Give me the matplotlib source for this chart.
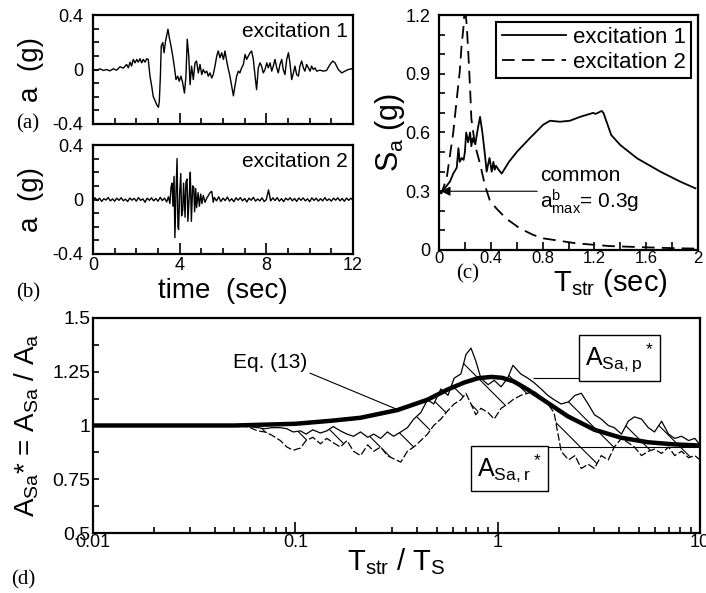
import matplotlib
matplotlib.use('Agg')
import matplotlib.pyplot as plt
from matplotlib.ticker import MultipleLocator, LogLocator, NullFormatter

plt.rcParams['font.family'] = ['Liberation Sans', 'DejaVu Sans']
plt.rcParams['mathtext.default'] = 'regular'
plt.rcParams['hatch.linewidth'] = 0.8

# ---- (a) excitation 1 time history (sec, g)
t1 = [0.02, 0.17, 0.32, 0.48, 0.63, 0.78, 0.94, 1.09, 1.25, 1.40,
      1.55, 1.63, 1.71, 1.78, 1.86, 1.94, 2.02, 2.09, 2.17, 2.25,
      2.32, 2.40, 2.48, 2.55, 2.63, 2.71, 2.78, 2.86, 2.94, 3.02,
      3.06, 3.11, 3.15, 3.22, 3.28, 3.35, 3.40, 3.46, 3.52, 3.60,
      3.68, 3.75, 3.83, 3.91, 3.98, 4.06, 4.14, 4.22, 4.29, 4.35,
      4.42, 4.48, 4.55, 4.63, 4.71, 4.78, 4.86, 4.94, 5.02, 5.09,
      5.17, 5.25, 5.32, 5.40, 5.48, 5.55, 5.63, 5.71, 5.78, 5.86,
      5.94, 6.02, 6.09, 6.17, 6.25, 6.32, 6.40, 6.48, 6.55, 6.63,
      6.71, 6.78, 6.86, 6.94, 7.02, 7.09, 7.17, 7.25, 7.32, 7.40,
      7.48, 7.55, 7.63, 7.71, 7.78, 7.86, 7.94, 8.02, 8.09, 8.17,
      8.25, 8.32, 8.40, 8.48, 8.55, 8.63, 8.71, 8.78, 8.86, 8.94,
      9.02, 9.09, 9.17, 9.25, 9.32, 9.40, 9.48, 9.55, 9.63, 9.71,
      9.78, 9.86, 9.94, 10.02, 10.09, 10.17, 10.25, 10.32, 10.48, 10.63,
      10.78, 10.94, 11.06, 11.17, 11.32, 11.48, 11.63, 11.78, 11.94]
a1 = [0.0, -0.007, 0.005, -0.007, 0.0, -0.01, 0.005, -0.005, 0.02, 0.01,
      0.037, 0.012, 0.054, 0.025, 0.074, 0.049, 0.074, 0.054, 0.079, 0.049,
      0.074, 0.054, 0.079, 0.074, -0.049, -0.123, -0.198, -0.227, -0.259, -0.277,
      -0.235, -0.049, 0.173, 0.198, 0.123, 0.21, 0.247, 0.296, 0.235, 0.173,
      0.099, 0.025, -0.074, -0.049, -0.086, -0.049, -0.099, -0.173, -0.049, 0.222,
      0.099, -0.111, 0.025, -0.074, 0.049, 0.062, -0.025, 0.037, -0.037, 0.0,
      -0.025, -0.012, -0.049, -0.025, -0.062, -0.037, 0.025, 0.099, 0.136, 0.086,
      0.123, 0.074, 0.136, 0.062, 0.0, -0.049, -0.123, -0.193, -0.123, -0.049,
      -0.012, -0.025, 0.012, 0.037, 0.111, 0.074, 0.099, 0.123, 0.136, 0.074,
      -0.049, -0.148, 0.012, 0.049, 0.025, -0.025, 0.0, 0.049, 0.012, 0.049,
      -0.012, 0.025, 0.074, 0.012, -0.025, 0.037, 0.074, 0.0, -0.037, 0.074,
      0.123, 0.049, -0.074, -0.025, 0.025, -0.037, -0.049, 0.025, 0.062, 0.012,
      -0.012, 0.037, 0.012, -0.012, 0.025, 0.0, 0.012, -0.012, -0.005, -0.012,
      -0.007, 0.037, 0.062, 0.049, 0.0, -0.025, -0.012, 0.0, 0.005]

# ---- (b) excitation 2 time history (sec, g)
t2 = [0.0, 0.1, 0.2, 0.3, 0.4, 0.5, 0.6, 0.7, 0.8, 0.9,
      1.0, 1.1, 1.2, 1.3, 1.4, 1.5, 1.6, 1.7, 1.8, 1.9,
      2.0, 2.1, 2.2, 2.3, 2.4, 2.5, 2.6, 2.7, 2.8, 2.9,
      3.0, 3.1, 3.2, 3.3, 3.4,
      3.48, 3.55, 3.60, 3.65, 3.69, 3.74, 3.78, 3.83, 3.88, 3.92,
      3.95, 4.00, 4.05, 4.09, 4.14, 4.18, 4.25, 4.29, 4.34, 4.38,
      4.45, 4.49, 4.54, 4.60, 4.65, 4.69, 4.74, 4.78, 4.85, 4.91,
      4.97, 5.03, 5.09, 5.17, 5.25, 5.33, 5.40, 5.48, 5.55,
      5.6, 5.7, 5.8, 5.9, 6.0, 6.1, 6.2, 6.3, 6.4, 6.5,
      6.6, 6.7, 6.8, 6.9, 7.0, 7.1, 7.2, 7.3, 7.4, 7.5,
      7.6, 7.7, 7.8, 7.9, 8.0, 8.1, 8.2, 8.3, 8.4, 8.5,
      8.6, 8.7, 8.8, 8.9, 9.0, 9.1, 9.2, 9.3, 9.4, 9.5,
      9.6, 9.7, 9.8, 9.9, 10.0, 10.1, 10.2, 10.3, 10.4, 10.5,
      10.6, 10.7, 10.8, 10.9, 11.0, 11.1, 11.2, 11.3, 11.4, 11.5,
      11.6, 11.7, 11.8, 11.9, 12.0]
a2 = [0.0, 0.012, -0.008, 0.01, -0.014, 0.006, -0.004, 0.015, -0.01, 0.004,
      -0.012, 0.01, -0.006, 0.013, -0.009, 0.003, -0.015, 0.011, -0.005, 0.008,
      -0.012, 0.014, -0.007, 0.005, -0.02, 0.01, -0.006, 0.012, -0.01, 0.007,
      -0.013, 0.016, -0.008, 0.01, -0.018,
      0.02, -0.03, 0.09, 0.12, -0.05, 0.17, -0.28, 0.05, 0.30, -0.20,
      -0.22, 0.05, 0.19, -0.12, -0.08, 0.12, -0.13, 0.13, 0.15, -0.16,
      0.05, 0.20, -0.16, 0.10, 0.09, -0.09, 0.08, -0.06, 0.05, -0.05,
      0.04, -0.03, 0.03, -0.02, 0.01, 0.03, 0.05, 0.06, -0.02,
      0.015, -0.01, 0.02, -0.015, 0.01, -0.008, 0.018, -0.012, 0.006, -0.016,
      0.012, -0.005, 0.014, -0.01, 0.008, -0.018, 0.01, -0.006, 0.016, -0.012,
      0.004, -0.01, 0.012, -0.015, 0.0, 0.07, -0.01, 0.012, -0.008, 0.014,
      -0.012, 0.006, -0.015, 0.01, -0.004, 0.013, -0.01, 0.008, -0.014, 0.011,
      -0.006, 0.012, -0.01, 0.005, -0.016, 0.012, -0.007, 0.01, -0.012, 0.006,
      -0.01, 0.014, -0.008, 0.004, -0.012, 0.01, -0.005, 0.012, -0.01, 0.008,
      -0.013, 0.011, -0.006, 0.009, -0.004]

# ---- (c) response spectra (sec, g)
T_c1 = [0.0, 0.02, 0.05, 0.085, 0.11, 0.137, 0.15, 0.16, 0.175, 0.19,
        0.20, 0.21, 0.225, 0.24, 0.25, 0.26, 0.28, 0.29, 0.30, 0.317,
        0.335, 0.355, 0.368, 0.38, 0.39, 0.407, 0.42, 0.43, 0.44, 0.46,
        0.484, 0.54, 0.60, 0.70, 0.805, 0.857, 0.934, 1.01, 1.09, 1.19,
        1.21, 1.256, 1.27, 1.33, 1.40, 1.53, 1.71, 1.86, 1.98]
Sa_c1 = [0.29, 0.30, 0.32, 0.35, 0.39, 0.42, 0.52, 0.45, 0.47, 0.46,
         0.50, 0.60, 0.55, 0.60, 0.53, 0.57, 0.54, 0.58, 0.62, 0.68,
         0.60, 0.485, 0.40, 0.44, 0.47, 0.40, 0.45, 0.41, 0.43, 0.41,
         0.39, 0.45, 0.50, 0.57, 0.64, 0.66, 0.655, 0.66, 0.68, 0.70,
         0.695, 0.71, 0.70, 0.587, 0.536, 0.468, 0.40, 0.35, 0.315]
T_c2 = [0.0, 0.02, 0.06, 0.085, 0.11, 0.137, 0.16, 0.175, 0.188, 0.20,
        0.214, 0.226, 0.24, 0.25, 0.278, 0.317, 0.355, 0.394, 0.446, 0.52,
        0.625, 0.728, 0.80, 0.90, 1.06, 1.32, 1.58, 1.83, 2.0]
Sa_c2 = [0.29, 0.29, 0.37, 0.485, 0.60, 0.77, 0.91, 1.05, 1.13, 1.25,
         1.15, 1.01, 0.826, 0.67, 0.536, 0.44, 0.33, 0.25, 0.21, 0.16,
         0.11, 0.077, 0.06, 0.05, 0.034, 0.02, 0.014, 0.009, 0.007]

# ---- (d) spectral amplification ratio
T_eq = [0.01, 0.02, 0.05, 0.1, 0.15, 0.21, 0.32, 0.45, 0.565, 0.684, 0.8,
        0.93, 1.05, 1.2, 1.41, 1.77, 2.22, 3.01, 4.08, 5.54, 7.52, 10.0]
A_eq = [1.0, 1.0, 1.0, 1.008, 1.022, 1.036, 1.072, 1.12, 1.167, 1.2, 1.22,
        1.226, 1.222, 1.205, 1.167, 1.105, 1.043, 0.98, 0.943, 0.922, 0.912, 0.907]
T_d = [0.0533, 0.0598, 0.0651, 0.0706, 0.0765, 0.0843, 0.0908, 0.0975, 0.106, 0.113,
       0.122, 0.133, 0.143, 0.154, 0.167, 0.180, 0.194, 0.210, 0.228, 0.244,
       0.264, 0.285, 0.306, 0.332, 0.358, 0.385, 0.417, 0.450, 0.483, 0.524,
       0.568, 0.609, 0.658, 0.697, 0.738, 0.780, 0.826, 0.897, 0.961, 1.04,
       1.12, 1.19, 1.30, 1.41, 1.51, 1.64, 1.77, 1.90, 2.06, 2.24,
       2.41, 2.59, 2.80, 3.01, 3.25, 3.52, 3.77, 4.09, 4.42, 4.74,
       5.14, 5.55, 5.96, 6.46, 6.99, 7.50, 8.11, 8.78, 9.43, 10.0]
A_d1 = [1.0, 0.995, 0.99, 0.985, 0.99, 0.99, 0.985, 0.97, 0.975, 0.96,
        0.98, 0.965, 0.975, 0.995, 0.975, 0.96, 0.95, 0.97, 0.945, 0.96,
        0.94, 0.97, 0.95, 0.97, 0.99, 1.03, 1.06, 1.12, 1.10, 1.17,
        1.14, 1.22, 1.24, 1.33, 1.36, 1.30, 1.22, 1.19, 1.21, 1.18,
        1.22, 1.28, 1.24, 1.22, 1.20, 1.17, 1.14, 1.12, 1.10, 1.11,
        1.14, 1.15, 1.10, 1.05, 1.03, 1.00, 0.99, 0.96, 1.02, 1.04,
        1.03, 0.99, 0.97, 1.02, 0.96, 0.94, 0.95, 0.93, 0.94, 0.91]
A_d2 = [1.0, 0.99, 0.975, 0.97, 0.955, 0.93, 0.90, 0.885, 0.895, 0.93,
        0.945, 0.915, 0.94, 0.92, 0.90, 0.93, 0.88, 0.86, 0.91, 0.88,
        0.90, 0.86, 0.845, 0.83, 0.88, 0.90, 0.93, 0.96, 1.00, 1.03,
        1.07, 1.10, 1.12, 1.15, 1.10, 1.05, 1.08, 1.06, 1.03, 1.08,
        1.10, 1.12, 1.14, 1.15, 1.16, 1.13, 1.10, 1.06, 0.88, 0.84,
        0.86, 0.80, 0.82, 0.80, 0.86, 0.84, 0.90, 0.94, 0.92, 0.90,
        0.86, 0.88, 0.89, 0.87, 0.90, 0.86, 0.88, 0.85, 0.86, 0.84]
A_peak = 1.22   # level marked by A_Sa,p*
A_resid = 0.902  # level marked by A_Sa,r*

fig = plt.figure(figsize=(7.06, 5.93), dpi=100)


def px_axes(left, top, right, bottom):
    return fig.add_axes([left / 706, 1 - bottom / 593, (right - left) / 706, (bottom - top) / 593])


def style(ax):
    for s in ax.spines.values():
        s.set_linewidth(1.6)
    ax.tick_params(which='both', direction='in', top=False, right=False, width=1.2,
                   labelsize=13, colors='black')


ax_a = px_axes(93, 15, 353, 124)
ax_b = px_axes(93, 145, 353, 254)
ax_c = px_axes(439, 15, 698, 250)
ax_d = px_axes(93, 318, 700, 533)

# (a), (b)
for ax, t, a, name in [(ax_a, t1, a1, 'excitation 1'), (ax_b, t2, a2, 'excitation 2')]:
    style(ax)
    ax.plot(t, a, color='black', lw=1.0)
    ax.set_xlim(0, 12)
    ax.set_ylim(-0.4, 0.4)
    ax.set_yticks([-0.4, 0, 0.4], labels=['-0.4', '0', '0.4'])
    ax.yaxis.set_minor_locator(MultipleLocator(0.1))
    ax.set_xticks([0, 4, 8, 12], labels=['0', '4', '8', '12'])
    ax.xaxis.set_minor_locator(MultipleLocator(1))
    ax.tick_params(axis='y', which='both', length=4, pad=7)
    ax.tick_params(axis='x', which='major', length=8, pad=2)
    ax.tick_params(axis='x', which='minor', length=4)
    ax.text(0.98, 0.845, name, transform=ax.transAxes, ha='right', va='center', fontsize=15)
    ax.set_ylabel('a  (g)', fontsize=20)
    ax.yaxis.set_label_coords(-0.238, 0.5)
    ax.yaxis.label.set_va('center')
ax_a.tick_params(axis='x', labelbottom=False)
ax_b.set_xlabel('time  (sec)', fontsize=20)
ax_b.xaxis.set_label_coords(0.5, -0.34)
ax_b.xaxis.label.set_va('center')

# (c)
style(ax_c)
ax_c.plot(T_c1, Sa_c1, color='black', lw=1.3, label='excitation 1')
ax_c.plot(T_c2, Sa_c2, color='black', lw=1.3, dashes=(7, 4), label='excitation 2')
ax_c.set_xlim(0, 2)
ax_c.set_ylim(0, 1.2)
ax_c.set_xticks([0, 0.4, 0.8, 1.2, 1.6, 2], labels=['0', '0.4', '0.8', '1.2', '1.6', '2'])
ax_c.xaxis.set_minor_locator(MultipleLocator(0.2))
ax_c.set_yticks([0, 0.3, 0.6, 0.9, 1.2], labels=['0', '0.3', '0.6', '0.9', '1.2'])
ax_c.yaxis.set_minor_locator(MultipleLocator(0.1))
ax_c.tick_params(axis='x', which='both', length=6, pad=1, labelsize=12)
ax_c.tick_params(axis='y', which='both', length=4, pad=6)
leg = ax_c.legend(loc='upper right', fontsize=16, fancybox=False, edgecolor='black',
                  framealpha=1, handlelength=2.9, borderaxespad=0.3, borderpad=0.25,
                  labelspacing=0.15, handletextpad=0.3)
leg.get_frame().set_linewidth(1.5)
ax_c.annotate('common\na$^b_{max}$= 0.3g', xy=(0.015, 0.3), xytext=(0.78, 0.3),
              ha='left', va='center', fontsize=15, linespacing=1.1,
              arrowprops=dict(arrowstyle='-|>', color='black', lw=0.8, relpos=(0, 0.5),
                              shrinkA=0, shrinkB=0, mutation_scale=14))
ax_c.set_ylabel('S$_a$ (g)', fontsize=22)
ax_c.yaxis.set_label_coords(-0.19, 0.5)
ax_c.yaxis.label.set_va('center')
ax_c.set_xlabel('T$_{str}$ (sec)', fontsize=21)
ax_c.xaxis.set_label_coords(0.66, -0.14)
ax_c.xaxis.label.set_va('center')

# (d)
style(ax_d)
ax_d.set_xscale('log')
ax_d.fill_between(T_d, A_d1, A_d2, facecolor='none', edgecolor='black', hatch='\\', lw=0)
ax_d.plot(T_d, A_d1, color='black', lw=0.9)
ax_d.plot(T_d, A_d2, color='black', lw=0.9, dashes=(6, 2))
ax_d.plot(T_eq, A_eq, color='black', lw=3.2)
ax_d.set_xlim(0.01, 10)
ax_d.set_ylim(0.5, 1.5)
ax_d.set_xticks([0.01, 0.1, 1, 10], labels=['0.01', '0.1', '1', '10'])
ax_d.xaxis.set_minor_locator(LogLocator(base=10, subs=range(2, 10)))
ax_d.xaxis.set_minor_formatter(NullFormatter())
ax_d.set_yticks([0.5, 0.75, 1, 1.25, 1.5], labels=['0.5', '0.75', '1', '1.25', '1.5'])
ax_d.yaxis.set_minor_locator(MultipleLocator(0.125))
ax_d.tick_params(axis='x', which='major', length=8, pad=1)
ax_d.tick_params(axis='x', which='minor', length=4)
ax_d.tick_params(axis='y', which='both', length=4, pad=2, labelsize=14)
ax_d.hlines(A_peak, 1.5, 2.68, color='black', lw=0.8)
ax_d.hlines(A_resid, 1.70, 10, color='black', lw=0.8)
box = dict(boxstyle='square,pad=0.25', facecolor='white', edgecolor='black', lw=1.0)
ax_d.text(4.0, 1.314, 'A$_{Sa,p}$$^*$', fontsize=18, ha='center', va='center', bbox=box)
ax_d.text(1.144, 0.80, 'A$_{Sa,r}$$^*$', fontsize=18, ha='center', va='center', bbox=box)
ax_d.annotate('Eq. (13)', xy=(0.32, 1.074), xytext=(0.075, 1.293), ha='center', va='center',
              fontsize=15,
              arrowprops=dict(arrowstyle='-', color='black', lw=0.8, relpos=(1, 0),
                              shrinkA=0, shrinkB=0))
ax_d.set_ylabel('A$_{Sa}$* = A$_{Sa}$ / A$_a$', fontsize=20)
ax_d.yaxis.set_label_coords(-0.109, 0.5)
ax_d.yaxis.label.set_va('center')
ax_d.set_xlabel('T$_{str}$ / T$_S$', fontsize=21)
ax_d.xaxis.set_label_coords(0.5, -0.135)
ax_d.xaxis.label.set_va('center')

# panel letters
for x, y, s in [(28, 124, '(a)'), (28, 293, '(b)'), (468, 274, '(c)'), (23, 580, '(d)')]:
    fig.text(x / 706, 1 - y / 593, s, fontsize=15, family='Liberation Serif', ha='center', va='center')

fig.savefig('out.png', dpi=100)
